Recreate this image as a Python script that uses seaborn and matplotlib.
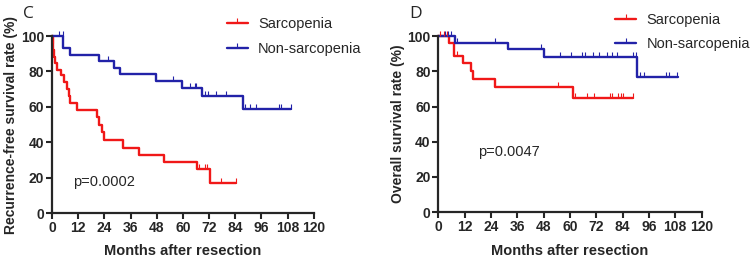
import numpy as np
import pandas as pd
from matplotlib import pyplot as plt
from matplotlib.lines import Line2D
import seaborn as sns

# Kaplan-Meier steps (months, survival %)
rfs_sarc_t = [0, 0.3, 0.6, 1.0, 1.5, 2.5, 4, 5.5, 7, 7.7, 8.4, 11.7, 20.6, 21.6, 22.8, 24, 32.7, 40, 51.3, 66.5, 72.6, 84.5]
rfs_sarc_s = [100, 96, 92, 88, 84.5, 81, 78, 74, 70, 66, 62, 58, 54, 50, 45.5, 41.5, 37, 33, 29, 25, 17, 17]
rfs_sarc_cens = [0.4, 67.5, 70, 71, 77.7, 84.5]

rfs_non_t = [0, 5, 8.4, 21.6, 28.6, 31, 47.5, 59.4, 68.8, 87.6, 109.6]
rfs_non_s = [100, 93, 89.3, 85.7, 82, 78.5, 74.7, 70.8, 66, 58.9, 58.9]
rfs_non_cens = [3, 4.9, 25.9, 55.6, 63.2, 65.5, 66.2, 70, 71.6, 75.4, 80, 88.3, 90.9, 93.6, 104.3, 105, 109.6]

os_sarc_t = [0, 4.7, 7.0, 11.2, 14.7, 16.0, 26.0, 61.2, 88.9]
os_sarc_s = [100, 95.8, 88.7, 84.5, 80, 75.5, 70.8, 64.8, 64.8]
os_sarc_cens = [0.8, 2.5, 4.0, 8.4, 54.4, 62.3, 68, 71, 78.2, 79.3, 82, 83.5, 84.3, 88.9]

os_non_t = [0, 7.6, 31.9, 48.3, 90.7, 109.4]
os_non_s = [100, 96.3, 92.4, 88.3, 77, 77]
os_non_cens = [3, 4.4, 6, 8.4, 26, 47, 55.7, 60.3, 65.6, 66.8, 70.6, 73.2, 77, 79.3, 81.6, 88.9, 90, 91.9, 93.9, 104, 105, 108.6]

groups = ["Sarcopenia", "Non-sarcopenia"]
red = "#F01818"
blue = "#2222A8"

sns.set_style("ticks")
plt.rcParams['font.family'] = ['Liberation Sans', 'DejaVu Sans']


def step_at(t, ts, ss):
    i = np.searchsorted(ts, t, side="right") - 1
    return ss[max(i, 0)]


def km_panel(ax, curves, ylabel, ptext, ppos, letter, leg_anchor):
    for ts, ss, cens, col in curves:
        d = pd.DataFrame({"t": ts, "s": ss})
        sns.lineplot(data=d, x="t", y="s", ax=ax, color=col, lw=1.7,
                     drawstyle="steps-post", clip_on=False, estimator=None, sort=False)
        c = pd.DataFrame({"t": cens, "s": [step_at(x, ts, ss) for x in cens]})
        sns.scatterplot(data=c, x="t", y="s", ax=ax, marker=2, color=col, s=11,
                        linewidth=0.8, clip_on=False, zorder=3)
    ax.set_xlim(0, 120)
    ax.set_ylim(0, 100)
    ax.set_xticks(np.arange(0, 121, 12))
    ax.set_yticks(np.arange(0, 101, 20))
    for s in ["top", "right"]:
        ax.spines[s].set_visible(False)
    for s in ["left", "bottom"]:
        ax.spines[s].set_linewidth(1.6)
    ax.tick_params(width=1.5, length=4, labelsize=10, pad=1.5)
    for lab in ax.get_xticklabels() + ax.get_yticklabels():
        lab.set_fontweight("bold")
    ax.set_xlabel("Months after resection", fontsize=10.5, fontweight="bold", labelpad=7)
    ax.set_ylabel(ylabel, fontsize=10, fontweight="bold", labelpad=2)
    ax.text(ppos[0], ppos[1], ptext, fontsize=10.5, va="center")
    ax.text(-0.11, 1.17, letter, transform=ax.transAxes, fontsize=12.5, va="top",
            family="Open Sans")
    handles = [Line2D([], [], color=col, lw=1.7, marker=2, ms=3.5, mew=0.8)
               for col in [red, blue]]
    ax.legend(handles, groups, loc="upper left", bbox_to_anchor=leg_anchor,
              frameon=False, fontsize=10.5, handlelength=1.45, handletextpad=0.7,
              labelspacing=0.7, borderpad=0, borderaxespad=0)


fig = plt.figure(figsize=(7.5, 2.63), dpi=100)
ax1 = fig.add_axes([0.0693, 0.190, 0.349, 0.673])
ax2 = fig.add_axes([0.5844, 0.193, 0.351, 0.670])

km_panel(ax1,
         [(rfs_sarc_t, rfs_sarc_s, rfs_sarc_cens, red),
          (rfs_non_t, rfs_non_s, rfs_non_cens, blue)],
         "Recurrence-free survival rate (%)", "p=0.0002", (9.6, 17.5), "C",
         (0.668, 1.105))
km_panel(ax2,
         [(os_sarc_t, os_sarc_s, os_sarc_cens, red),
          (os_non_t, os_non_s, os_non_cens, blue)],
         "Overall survival rate (%)", "p=0.0047", (18, 34.4), "D",
         (0.671, 1.13))

fig.savefig("out.png", dpi=100)
